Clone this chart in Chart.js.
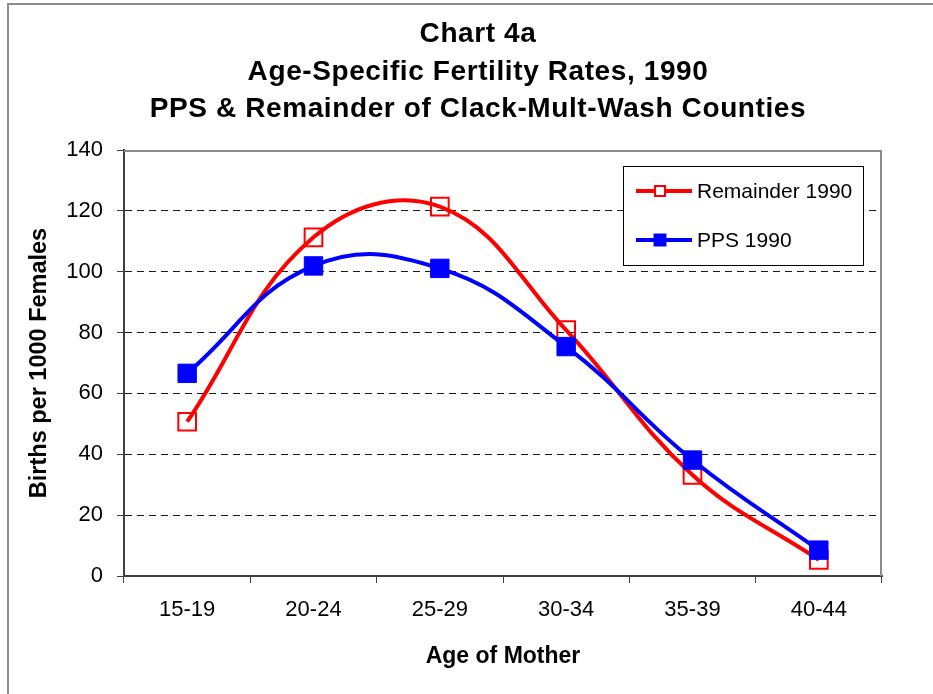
<!DOCTYPE html>
<html>
<head>
<meta charset="utf-8">
<script src="https://cdn.jsdelivr.net/npm/chart.js@4.4.1/dist/chart.umd.min.js"></script>
<style>
  html, body { margin: 0; padding: 0; background: #ffffff; }
  #wrap { width: 933px; height: 694px; }
</style>
</head>
<body>
<div id="wrap"><canvas id="c" width="933" height="694"></canvas></div>
<script>
// ---- data ----
const categories = ['15-19', '20-24', '25-29', '30-34', '35-39', '40-44'];
const remainder1990 = [50.7, 111.3, 121.4, 80.8, 33.2, 5.3];
const pps1990 = [66.6, 101.9, 101.1, 75.4, 38.1, 8.5];
const seriesNames = ['Remainder 1990', 'PPS 1990'];
const titleLines = ['Chart 4a', 'Age-Specific Fertility Rates, 1990', 'PPS & Remainder of Clack-Mult-Wash Counties'];
const xAxisTitle = 'Age of Mother';
const yAxisTitle = 'Births per 1000 Females';
const yMin = 0, yMax = 140, yStep = 20;

const FONT = '"Liberation Sans", Arial, sans-serif';

const framePlugin = {
  id: 'framePlugin',
  beforeDraw(chart) {
    const ctx = chart.ctx;
    ctx.save();
    ctx.fillStyle = '#ffffff';
    ctx.fillRect(0, 0, chart.width, chart.height);
    ctx.fillStyle = '#8c8c8c';
    ctx.fillRect(7, 3, 2, chart.height - 3);
    ctx.fillRect(7, 3, chart.width - 7, 2);
    ctx.restore();
  },
  beforeDatasetsDraw(chart) {
    const ctx = chart.ctx, a = chart.chartArea;
    ctx.save();
    ctx.strokeStyle = '#8c8c8c';
    ctx.lineWidth = 2;
    ctx.beginPath();
    ctx.moveTo(a.left, a.top + 1);
    ctx.lineTo(a.right - 1, a.top + 1);
    ctx.lineTo(a.right - 1, a.bottom);
    ctx.stroke();
    ctx.restore();
  },
  afterDraw(chart) {
    const ctx = chart.ctx;
    ctx.save();
    // titles
    ctx.fillStyle = '#000000';
    ctx.textAlign = 'center';
    ctx.textBaseline = 'middle';
    ctx.font = 'bold 28px ' + FONT;
    if ('letterSpacing' in ctx) ctx.letterSpacing = '0.6px';
    const ys = [34, 72, 109];
    titleLines.forEach((t, i) => ctx.fillText(t, 478, ys[i]));
    if ('letterSpacing' in ctx) ctx.letterSpacing = '0px';

    // legend
    const lx = 623, ly = 166, lw = 240, lh = 99;
    ctx.fillStyle = '#ffffff';
    ctx.fillRect(lx, ly, lw, lh);
    ctx.strokeStyle = '#000000';
    ctx.lineWidth = 1;
    ctx.strokeRect(lx + 0.5, ly + 0.5, lw, lh);
    const rowY = [191, 240];
    chart.data.datasets.forEach((ds, i) => {
      const y = rowY[i];
      ctx.strokeStyle = ds.borderColor;
      ctx.lineWidth = 4;
      ctx.beginPath();
      ctx.moveTo(636, y);
      ctx.lineTo(692, y);
      ctx.stroke();
      if (ds.label === seriesNames[0]) {
        const s = 10;
        ctx.fillStyle = '#ffffff';
        ctx.fillRect(660 - s/2, y - s/2, s, s);
        ctx.strokeStyle = ds.borderColor;
        ctx.lineWidth = 2;
        ctx.strokeRect(660 - s/2, y - s/2, s, s);
      } else {
        ctx.fillStyle = ds.pointBackgroundColor;
        ctx.fillRect(660 - 6.5, y - 6.5, 13, 13);
      }
      ctx.fillStyle = '#000000';
      ctx.textAlign = 'left';
      ctx.textBaseline = 'middle';
      ctx.font = '21px ' + FONT;
      ctx.fillText(ds.label, 697, y + 1);
    });
    ctx.restore();
  }
};

const chart = new Chart(document.getElementById('c'), {
  type: 'line',
  data: {
    labels: categories,
    datasets: [
      {
        label: seriesNames[0],
        data: remainder1990,
        borderColor: '#ff0000',
        borderWidth: 4,
        tension: 0.4,
        pointStyle: 'rect',
        pointRadius: 12.5,
        pointBorderWidth: 2,
        pointBorderColor: '#ff0000',
        pointBackgroundColor: 'rgba(255,255,255,0)',
        order: 1,
        clip: false
      },
      {
        label: seriesNames[1],
        data: pps1990,
        borderColor: '#0000ff',
        borderWidth: 4,
        tension: 0.42,
        pointStyle: 'rect',
        pointRadius: 13,
        pointBorderWidth: 1,
        pointBorderColor: '#0000ff',
        pointBackgroundColor: '#0000ff',
        order: 0,
        clip: false
      }
    ]
  },
  options: {
    responsive: false,
    devicePixelRatio: 1,
    animation: false,
    events: [],
    layout: { padding: { top: 150, right: 51, bottom: 8, left: 20 } },
    plugins: {
      legend: { display: false },
      title: { display: false },
      tooltip: { enabled: false }
    },
    scales: {
      x: {
        type: 'category',
        offset: true,
        grid: {
          offset: true,
          drawOnChartArea: false,
          drawTicks: true,
          tickLength: 7,
          tickColor: '#404040',
          tickWidth: 1
        },
        border: { color: '#404040', width: 2 },
        ticks: {
          color: '#000000',
          font: { family: FONT, size: 22 },
          padding: 14,
          maxRotation: 0,
          autoSkip: false
        },
        title: {
          display: true,
          text: xAxisTitle,
          color: '#000000',
          font: { family: FONT, size: 23, weight: 'bold' },
          padding: { top: 10, bottom: 16 }
        },
        afterFit(scale) { scale.height = 694 - 576 - 8; }
      },
      y: {
        min: yMin,
        max: yMax,
        ticks: {
          stepSize: yStep,
          color: '#000000',
          font: { family: FONT, size: 22 },
          padding: 14
        },
        grid: {
          drawOnChartArea: true,
          color: (c) => (c.tick && c.tick.value > yMin && c.tick.value < yMax) ? '#1a1a1a' : 'rgba(0,0,0,0)',
          lineWidth: 1,
          tickLength: 7,
          tickColor: '#404040',
          tickWidth: 1,
          tickBorderDash: []
        },
        border: { color: '#404040', width: 2, dash: [7, 5] },
        title: {
          display: true,
          text: yAxisTitle,
          color: '#000000',
          font: { family: FONT, size: 23.5, weight: 'bold' },
          padding: { top: 5, bottom: 6 }
        },
        afterFit(scale) { scale.width = 124 - 20; }
      }
    }
  },
  plugins: [framePlugin]
});
</script>
</body>
</html>
